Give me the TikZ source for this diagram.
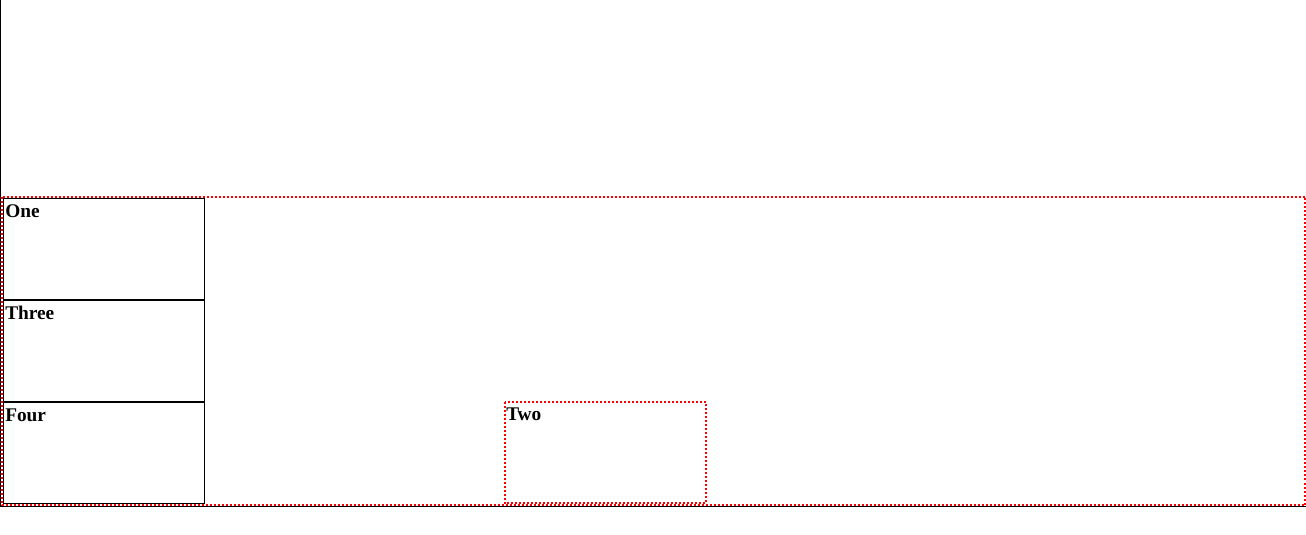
\documentclass[tikz,border=0pt]{standalone}
\usepackage{fontspec}
\setmainfont{Liberation Serif}
\begin{document}
\begin{tikzpicture}[x=0.75pt,y=-0.75pt,
  blk/.style={draw=black,line width=0.75pt},
  reddot/.style={draw=red,line width=1.5pt,dash pattern=on 1.5pt off 1.5pt},
  lbl/.style={font=\bfseries\fontsize{14.5pt}{17pt}\selectfont,inner sep=0pt,anchor=base west}]
\useasboundingbox (0,0) rectangle (1306,535);
\fill[white] (0,0) rectangle (1306,535);
% outer black frame (left and bottom)
\draw[blk] (0.5,0) -- (0.5,506.5) -- (1306,506.5);
% outer red dotted container
\draw[reddot] (2,196.5) rectangle (1305,505);
% left stacked boxes
\draw[blk] (3.5,198.5) rectangle (204.5,503.5);
\draw[draw=black,line width=1.5pt] (3.5,300) -- (204.5,300);
\draw[draw=black,line width=1.5pt] (3.5,402) -- (204.5,402);
\node[lbl] (one) at (5,217) {One};
\node[lbl] (three) at (5,319) {Three};
\node[lbl] (four) at (5,421) {Four};
% box Two
\draw[reddot] (504.5,401.5) rectangle (705.5,503);
\node[lbl] (two) at (506,420) {Two};
\end{tikzpicture}
\end{document}
